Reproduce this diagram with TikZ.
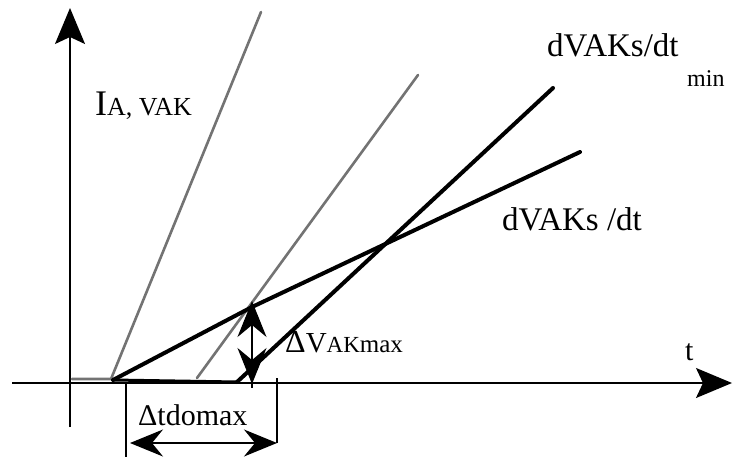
\documentclass[tikz,border=0pt]{standalone}
\usepackage{fontspec}
\setmainfont{Liberation Serif}
\usetikzlibrary{arrows.meta}
\begin{document}
\begin{tikzpicture}[x=1pt,y=-1pt,
  axis/.style={line width=1.6pt, -{Stealth[length=36pt,width=30pt,inset=7pt]}},
  curve/.style={line width=4pt, line cap=round, line join=round},
  ramp/.style={line width=2.6pt, color=black!55, line cap=round},
  dim/.style={line width=1.4pt},
  vdimarrow/.style={line width=1.4pt, {Stealth[length=36pt,width=29pt,inset=12pt]}-{Stealth[length=36pt,width=29pt,inset=12pt]}},
  dimarrow/.style={line width=1.4pt, {Stealth[length=33pt,width=27pt,inset=11pt]}-{Stealth[length=33pt,width=27pt,inset=11pt]}},
  lbl/.style={inner sep=0pt, anchor=base west}]
\useasboundingbox (0,0) rectangle (733,457);
% coordinates
\coordinate (ybot) at (70,427);
\coordinate (ytop) at (70,8);
\coordinate (xleft) at (12,383);
\coordinate (xright) at (732,383);
\coordinate (g0) at (72,379);
\coordinate (g1) at (111,379);
\coordinate (g1top) at (261,12);
\coordinate (g2) at (197,378);
\coordinate (g2top) at (418,75);
\coordinate (b1) at (113,380);
\coordinate (b1k) at (252,307);
\coordinate (b1end) at (580,152);
\coordinate (b2) at (237,382);
\coordinate (b2end) at (553,88);
\coordinate (va) at (252,301);
\coordinate (vb) at (252,384);
\coordinate (vtail) at (252,388);
\coordinate (dl0) at (126,383);
\coordinate (dl1) at (126,457);
\coordinate (dr0) at (277,378);
\coordinate (dr1) at (277,443);
\coordinate (ha) at (130,443);
\coordinate (hb) at (277,443);
% axes
\draw[axis] (ybot) -- (ytop);
\draw[axis] (xleft) -- (xright);
\draw[line width=3pt] (b1) -- (b2);
% gray ramps
\draw[ramp] (g0) -- (g1) -- (g1top);
\draw[ramp] (g2) -- (g2top);
% black slopes
\draw[curve] (b1) -- (b1k) -- (b1end);
\draw[curve] (b2) -- (b2end);
% dimension lines
\draw[dim] (dl0) -- (dl1);
\draw[dim] (dr0) -- (dr1);
\draw[dim] (vb) -- (vtail);
\draw[vdimarrow] (vb) -- (va);
\draw[dimarrow] (ha) -- (hb);
% labels
\node[lbl] (lia) at (95,116) {\fontsize{36}{36}\selectfont I\fontsize{26}{26}\selectfont A, VAK};
\node[lbl] (lmin) at (547,57) {\fontsize{33}{33}\selectfont dVAKs/dt};
\node[lbl] (lmin2) at (687,87) {\fontsize{24}{24}\selectfont min};
\node[lbl] (ls) at (502,230) {\fontsize{33}{33}\selectfont dVAKs /dt};
\node[lbl] (lt) at (685,360) {\fontsize{30}{30}\selectfont t};
\node[lbl] (ldv) at (285,352) {\fontsize{32}{32}\selectfont Δ\fontsize{29}{29}\selectfont V\fontsize{23}{23}\selectfont AK\fontsize{25}{25}\selectfont max};
\node[lbl] (ldt) at (138,425) {\fontsize{30}{30}\selectfont Δtdomax};
\end{tikzpicture}
\end{document}
